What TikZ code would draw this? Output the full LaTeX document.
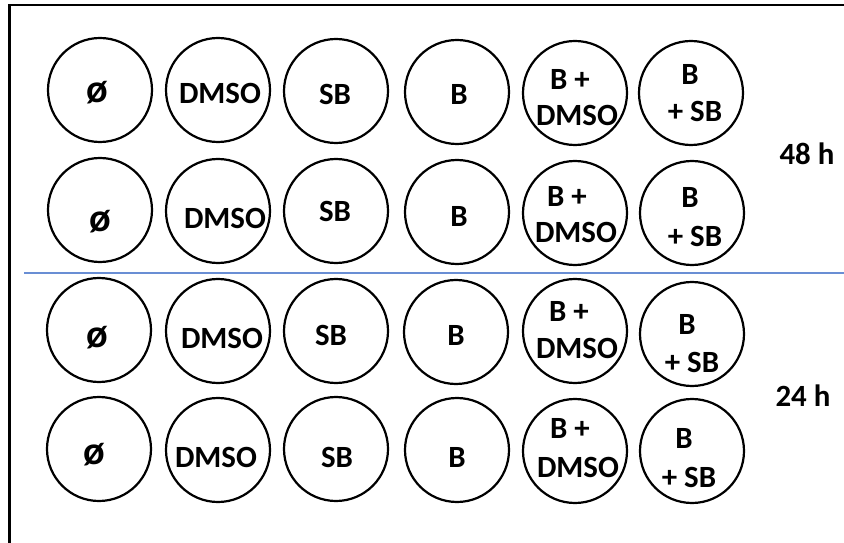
\documentclass[tikz,border=0pt]{standalone}
\usepackage{fontspec}
\setmainfont{Carlito}
\usetikzlibrary{positioning}
\definecolor{inkcol}{RGB}{0,0,0}
\definecolor{splitcol}{RGB}{105,142,212}
\tikzset{
  well/.style={draw=inkcol, circle, line width=2.2bp, minimum size=104bp, inner sep=0pt},
  welltext/.style={anchor=base, inner sep=0pt, text=inkcol,
                   font=\fontsize{31}{31}\selectfont\bfseries},
  nulltext/.style={welltext, font=\fontsize{40}{40}\selectfont\bfseries}
}
\begin{document}
\begin{tikzpicture}[x=1bp, y=-1bp]
  \useasboundingbox (0,0) rectangle (844,543);

  % --- frame (left and top edges only) -------------------------------------
  \coordinate (FrameBL) at (9.5,560);
  \coordinate (FrameTL) at (9.5,5);
  \coordinate (FrameTR) at (860,5);
  \draw[inkcol, line width=2.4bp] (FrameBL) -- (FrameTL) -- (FrameTR);

  % --- blue line between the 48 h and 24 h plates ---------------------------
  \coordinate (SplitL) at (24,273);
  \coordinate (SplitR) at (860,273);
  \draw[splitcol, line width=1.3bp] (SplitL) -- (SplitR);

  % --- row 1 (48 h) ----------------------------------------------------------
  \node[well] (r1c1) at (100,90) {};
  \node[well] (r1c2) at (218,90) {};
  \node[well] (r1c3) at (336,91) {};
  \node[well] (r1c4) at (457,92) {};
  \node[well] (r1c5) at (575,93) {};
  \node[well] (r1c6) at (691,93) {};
  \node[nulltext] (t1c1) at (97,103) {ø};
  \node[welltext] (t1c2) at (220,104) {DMSO};
  \node[welltext] (t1c3) at (335,105) {SB};
  \node[welltext] (t1c4) at (459,105) {B};
  \node[welltext] (t1c5a) at (570,90) {B +};
  \node[welltext] (t1c5b) at (577,126) {DMSO};
  \node[welltext] (t1c6a) at (690,85) {B};
  \node[welltext] (t1c6b) at (695,122) {+ SB};

  % --- row 2 (48 h) ----------------------------------------------------------
  \node[well] (r2c1) at (100,210) {};
  \node[well] (r2c2) at (218,211) {};
  \node[well] (r2c3) at (336,211) {};
  \node[well] (r2c4) at (457,212) {};
  \node[well] (r2c5) at (575,213) {};
  \node[well] (r2c6) at (692,213) {};
  \node[nulltext] (t2c1) at (100,232) {ø};
  \node[welltext] (t2c2) at (225,229) {DMSO};
  \node[welltext] (t2c3) at (335,222) {SB};
  \node[welltext] (t2c4) at (459,227) {B};
  \node[welltext] (t2c5a) at (567,207) {B +};
  \node[welltext] (t2c5b) at (576,243) {DMSO};
  \node[welltext] (t2c6a) at (690,208) {B};
  \node[welltext] (t2c6b) at (695,247) {+ SB};

  % --- row 3 (24 h) ----------------------------------------------------------
  \node[well] (r3c1) at (99,330) {};
  \node[well] (r3c2) at (218,331) {};
  \node[well] (r3c3) at (336,331) {};
  \node[well] (r3c4) at (456,332) {};
  \node[well] (r3c5) at (575,331) {};
  \node[well] (r3c6) at (692,334) {};
  \node[nulltext] (t3c1) at (97,347) {ø};
  \node[welltext] (t3c2) at (222,348) {DMSO};
  \node[welltext] (t3c3) at (331,345) {SB};
  \node[welltext] (t3c4) at (456,345) {B};
  \node[welltext] (t3c5a) at (569,322) {B +};
  \node[welltext] (t3c5b) at (577,358) {DMSO};
  \node[welltext] (t3c6a) at (687,335) {B};
  \node[welltext] (t3c6b) at (692,372) {+ SB};

  % --- row 4 (24 h) ----------------------------------------------------------
  \node[well] (r4c1) at (99,449) {};
  \node[well] (r4c2) at (218,450) {};
  \node[well] (r4c3) at (336,449) {};
  \node[well] (r4c4) at (457,450) {};
  \node[well] (r4c5) at (575,451) {};
  \node[well] (r4c6) at (692,451) {};
  \node[nulltext] (t4c1) at (94,464) {ø};
  \node[welltext] (t4c2) at (216,467) {DMSO};
  \node[welltext] (t4c3) at (337,467) {SB};
  \node[welltext] (t4c4) at (457,467) {B};
  \node[welltext] (t4c5a) at (570,438) {B +};
  \node[welltext] (t4c5b) at (578,477) {DMSO};
  \node[welltext] (t4c6a) at (684,448) {B};
  \node[welltext] (t4c6b) at (689,487) {+ SB};

  % --- time labels -------------------------------------------------------------
  \node[welltext] (Time48) at (807,165) {48 h};
  \node[welltext] (Time24) at (803,406) {24 h};

\end{tikzpicture}
\end{document}
